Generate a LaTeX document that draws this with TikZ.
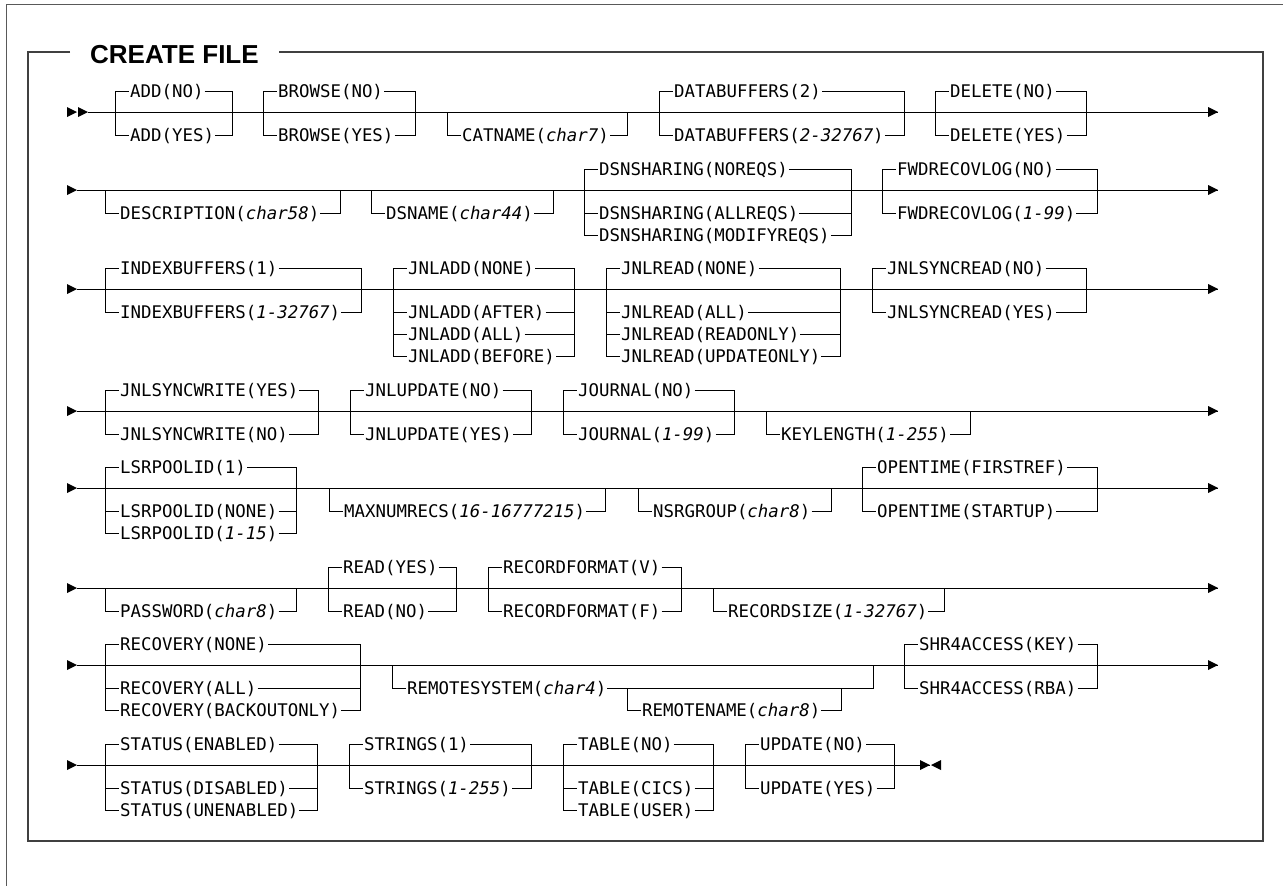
\documentclass[tikz,border=0pt]{standalone}
\usepackage{fontspec}
\newfontfamily\railfont{DejaVu Sans Mono}
\newfontfamily\titlefont{Liberation Sans}

\tikzset{
	rail/.style={line width=1pt},
	kw/.style={font=\railfont\fontsize{17.4pt}{20pt}\selectfont, anchor=west,
		inner xsep=1pt, inner ysep=0pt, text height=12.7pt, text depth=0pt},
	titletext/.style={font=\titlefont\bfseries\fontsize{26pt}{30pt}\selectfont,
		anchor=west, inner sep=0pt},
	frame/.style={line width=1.6pt, black!75},
	tip/.style={fill=black}
}

% one choice group: name, left x, right x, line y, list of dy/text
\newcommand{\railgroup}[5]{%
	\coordinate (#1-in) at (#2,#4);
	\coordinate (#1-out) at (#3,#4);
	\foreach \dy/\txt [count=\i] in {#5} {
		\node[kw] (#1-\i) at ({#2+14},{#4+\dy}) {\txt};
		\draw[rail] (#1-in) |- (#1-\i.west);
		\draw[rail] (#1-\i.east) -| (#1-out);
	}
}

\begin{document}
\begin{tikzpicture}[x=1pt,y=-1pt]
		\useasboundingbox (0,0) rectangle (1283,886);

		% frames
		\draw[black!65, line width=1pt] (6,886) -- (6,4) -- (1283,4);
		\node[titletext] (title) at (90,55) {CREATE FILE};
		\coordinate (fnw) at (28,52);
		\coordinate (fsw) at (28,841);
		\coordinate (fse) at (1263,841);
		\coordinate (fne) at (1263,52);
		\draw[frame] ([xshift=-20pt]title.west |- fnw) -- (fnw) -- (fsw) -- (fse) -- (fne)
			-- ([xshift=20pt]title.east |- fnw);

		% main lines
		\foreach \r/\y/\xa/\xb in {1/112/88/1218, 2/190/77/1218, 3/289/77/1218, 4/411/77/1218,
			5/488/77/1218, 6/588/77/1218, 7/665/77/1218, 8/765/77/930} {
			\coordinate (r\r a) at (\xa,\y);
			\coordinate (r\r b) at (\xb,\y);
			\draw[rail] (r\r a) -- (r\r b);
			\fill[tip] (r\r a) -- ++(-10,-5) -- ++(0,10) -- cycle;
			\fill[tip] (r\r b) -- ++(-10,-5) -- ++(0,10) -- cycle;
		}
		\fill[tip] ([xshift=-11pt]r1a) -- ++(-10,-5) -- ++(0,10) -- cycle;
		\fill[tip] ([xshift=1pt]r8b) -- ++(10,-5) -- ++(0,10) -- cycle;

		% row 1
		\railgroup{add}{115}{232}{112}{-21/ADD(NO), 23/ADD(YES)}
		\railgroup{browse}{263}{415}{112}{-21/BROWSE(NO), 23/BROWSE(YES)}
		\railgroup{catname}{447}{627}{112}{23/{CATNAME(\textit{char7})}}
		\railgroup{databuf}{659}{904}{112}{-21/DATABUFFERS(2), 23/{DATABUFFERS(\textit{2-32767})}}
		\railgroup{delete}{935}{1086}{112}{-21/DELETE(NO), 23/DELETE(YES)}

		% row 2
		\railgroup{descr}{105}{340}{190}{23/{DESCRIPTION(\textit{char58})}}
		\railgroup{dsname}{371}{553}{190}{23/{DSNAME(\textit{char44})}}
		\railgroup{dsnshr}{584}{851}{190}{-21/DSNSHARING(NOREQS), 23/DSNSHARING(ALLREQS),
			45/DSNSHARING(MODIFYREQS)}
		\railgroup{fwdrec}{882}{1097}{190}{-21/FWDRECOVLOG(NO), 23/{FWDRECOVLOG(\textit{1-99})}}

		% row 3
		\railgroup{idxbuf}{105}{361}{289}{-21/INDEXBUFFERS(1), 23/{INDEXBUFFERS(\textit{1-32767})}}
		\railgroup{jnladd}{393}{574}{289}{-21/JNLADD(NONE), 23/JNLADD(AFTER), 45/JNLADD(ALL),
			67/JNLADD(BEFORE)}
		\railgroup{jnlread}{606}{840}{289}{-21/JNLREAD(NONE), 23/JNLREAD(ALL), 45/JNLREAD(READONLY),
			67/JNLREAD(UPDATEONLY)}
		\railgroup{jnlsread}{872}{1086}{289}{-21/JNLSYNCREAD(NO), 23/JNLSYNCREAD(YES)}

		% row 4
		\railgroup{jnlswrite}{105}{318}{411}{-21/JNLSYNCWRITE(YES), 23/JNLSYNCWRITE(NO)}
		\railgroup{jnlupd}{350}{531}{411}{-21/JNLUPDATE(NO), 23/JNLUPDATE(YES)}
		\railgroup{journal}{563}{734}{411}{-21/JOURNAL(NO), 23/{JOURNAL(\textit{1-99})}}
		\railgroup{keylen}{766}{970}{411}{23/{KEYLENGTH(\textit{1-255})}}

		% row 5
		\railgroup{lsrpool}{105}{296}{488}{-21/LSRPOOLID(1), 23/LSRPOOLID(NONE),
			45/{LSRPOOLID(\textit{1-15})}}
		\railgroup{maxnum}{329}{605}{488}{23/{MAXNUMRECS(\textit{16-16777215})}}
		\railgroup{nsrgrp}{638}{831}{488}{23/{NSRGROUP(\textit{char8})}}
		\railgroup{opentime}{862}{1097}{488}{-21/OPENTIME(FIRSTREF), 23/OPENTIME(STARTUP)}

		% row 6
		\railgroup{passwd}{105}{296}{588}{23/{PASSWORD(\textit{char8})}}
		\railgroup{read}{328}{456}{588}{-21/READ(YES), 23/READ(NO)}
		\railgroup{recfmt}{488}{681}{588}{-21/RECORDFORMAT(V), 23/RECORDFORMAT(F)}
		\railgroup{recsize}{713}{944}{588}{23/{RECORDSIZE(\textit{1-32767})}}

		% row 7
		\railgroup{recov}{105}{360}{665}{-21/RECOVERY(NONE), 23/RECOVERY(ALL),
			45/RECOVERY(BACKOUTONLY)}
		\railgroup{rsys}{392}{873}{665}{23/{REMOTESYSTEM(\textit{char4})}}
		\railgroup{rname}{627}{841}{688}{22/{REMOTENAME(\textit{char8})}}
		\railgroup{shr4}{904}{1097}{665}{-21/SHR4ACCESS(KEY), 23/SHR4ACCESS(RBA)}

		% row 8
		\railgroup{status}{105}{317}{765}{-21/STATUS(ENABLED), 23/STATUS(DISABLED),
			45/STATUS(UNENABLED)}
		\railgroup{strings}{349}{531}{765}{-21/STRINGS(1), 23/{STRINGS(\textit{1-255})}}
		\railgroup{table}{563}{713}{765}{-21/TABLE(NO), 23/TABLE(CICS), 45/TABLE(USER)}
		\railgroup{update}{745}{894}{765}{-21/UPDATE(NO), 23/UPDATE(YES)}

\end{tikzpicture}
\end{document}
